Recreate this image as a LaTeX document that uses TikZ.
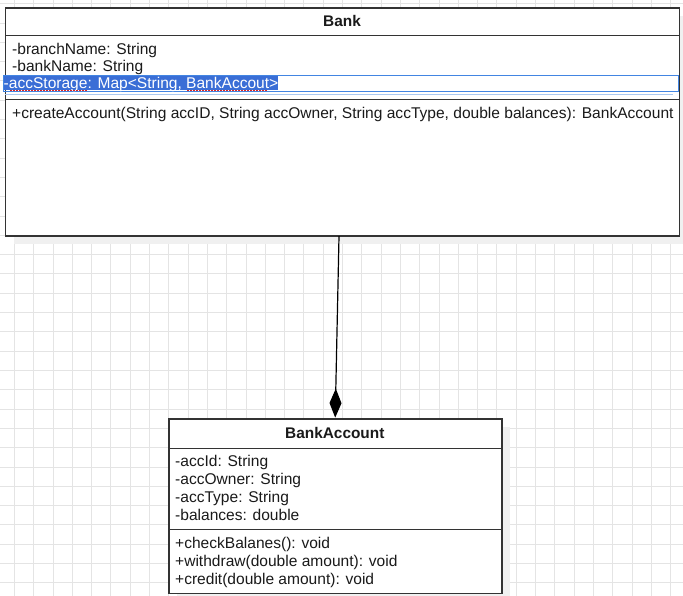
\documentclass[tikz,border=0pt]{standalone}
\usepackage{fontspec}
\setmainfont{Liberation Sans}
\usetikzlibrary{arrows.meta}
\definecolor{gridc}{RGB}{228,228,228}
\definecolor{shadowc}{RGB}{240,240,240}
\definecolor{boxline}{RGB}{51,51,51}
\definecolor{txtc}{RGB}{26,26,26}
\definecolor{selblue}{RGB}{58,110,214}
\definecolor{selline}{RGB}{66,133,226}
\definecolor{sellight}{RGB}{170,200,240}
\definecolor{spellred}{RGB}{220,40,40}
\tikzset{
  gridline/.style={draw=gridc, line width=1pt},
  umlbox/.style={draw=boxline, fill=white, line width=1.3pt, rectangle, inner sep=0pt, anchor=north west},
  sepline/.style={draw=boxline, line width=1.3pt},
  txt/.style={inner sep=0pt, text=txtc, font=\fontsize{15.55}{18}\selectfont, anchor=base west},
  ttl/.style={inner sep=0pt, text=txtc, font=\fontsize{15.4}{18}\selectfont\bfseries, anchor=base},
  assoc/.style={draw=black, line width=1.2pt, -{Diamond[length=29pt,width=12pt]}},
}
\begin{document}
\begin{tikzpicture}[x=1pt,y=-1pt]
\useasboundingbox (0,0) rectangle (683,596);
\fill[white] (0,0) rectangle (683,596);
% grid
\foreach \i in {-1,...,35} {\draw[gridline] ({14.4+19.3*\i},0) -- ++(0,596);}
\foreach \j in {0,...,31} {\draw[gridline] (0,{3.8+19.3*\j}) -- ++(683,0);}
% shadows
\fill[shadowc] (14,16.5) rectangle (690,244.5);
\fill[shadowc] (177,427) rectangle (510,602);
% Bank class
\node[umlbox, minimum width=674pt, minimum height=228pt] (bank) at (5,7.5) {};
\draw[sepline] (5,35.7) -- (679,35.7);
\draw[sepline] (5,99.3) -- (679,99.3);
\node[ttl] (bankttl) at (342,26.7) {Bank};
\node[txt] (battr1) at (12,54.5) {-branchName: String};
\node[txt] (battr2) at (12,72) {-bankName: String};
% selection of third attribute
\fill[selblue] (3,75.3) rectangle (277.7,90);
\draw[selline, line width=1pt] (3,75.5) rectangle (678,91.5);
\draw[sellight, line width=1pt] (5,94.8) -- (673,94.8);
\node[txt, text=white] (battr3) at (3.5,88.3) {-accStorage: Map<String, BankAccout>};
\draw[spellred, line width=0.8pt, dash pattern=on 1.5pt off 1.5pt] (10,90.3) -- (88,90.3);
\draw[spellred, line width=0.8pt, dash pattern=on 1.5pt off 1.5pt] (187,90.3) -- (267,90.3);
\node[txt] (bmeth1) at (12,118.3) {+createAccount(String accID, String accOwner, String accType, double balances): BankAccount};
% BankAccount class
\node[umlbox, minimum width=333pt, minimum height=174.4pt] (acc) at (168.3,418.3) {};
\draw[sepline] (168.3,448.3) -- (501.3,448.3);
\draw[sepline] (168.3,529.3) -- (501.3,529.3);
\node[ttl] (accttl) at (334.8,438.7) {BankAccount};
\node[txt] (aattr1) at (175,466) {-accId: String};
\node[txt] (aattr2) at (175,484) {-accOwner: String};
\node[txt] (aattr3) at (175,502) {-accType: String};
\node[txt] (aattr4) at (175,520) {-balances: double};
\node[txt] (ameth1) at (175,548.3) {+checkBalanes(): void};
\node[txt] (ameth2) at (175,566.3) {+withdraw(double amount): void};
\node[txt] (ameth3) at (175,584.3) {+credit(double amount): void};
% composition
\coordinate (ctop) at (339,236.2);
\coordinate (cbot) at (335.2,417.6);
\draw[assoc] (ctop) -- (cbot);
\end{tikzpicture}
\end{document}
